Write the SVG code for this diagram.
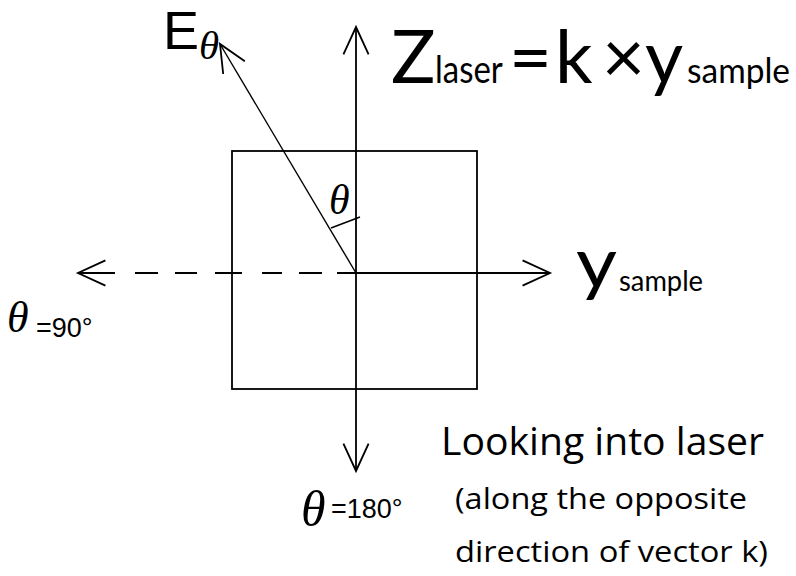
<svg xmlns="http://www.w3.org/2000/svg" width="796" height="576" viewBox="0 0 796 576">
<style>
.ln{fill:none;stroke:#000;stroke-width:1.8}
.thin{fill:none;stroke:#000;stroke-width:1.4}
.th{font-family:"Liberation Serif",serif;font-style:italic;fill:#000}
.f{font-family:Lato,"Liberation Sans",sans-serif;fill:#000}
.deg{font-family:"Liberation Sans",Arial,sans-serif;font-size:27px;fill:#000}
.cap{font-family:"Open Sans","Noto Sans",sans-serif;fill:#000}
</style>
<defs>
<marker id="ah" markerUnits="userSpaceOnUse" orient="auto" refX="0" refY="0" markerWidth="40" markerHeight="40" viewBox="-30 -15 35 30" overflow="visible">
<path d="M-24,-11 L0,0 L-24,11" fill="none" stroke="#000" stroke-width="1.6"/>
</marker>
</defs>
<rect width="796" height="576" fill="#fff"/>
<g id="sample-square">
<rect x="232" y="151" width="245" height="238" class="ln"/>
</g>
<g id="connectors">
<path id="axis-up" class="ln" d="M356,273 L356,27" marker-end="url(#ah)"/>
<path id="axis-down" class="ln" d="M356,273 L356,471" marker-end="url(#ah)"/>
<path id="axis-right" class="ln" d="M356,273 L550,273" marker-end="url(#ah)"/>
<path id="axis-left" class="ln" d="M356,273 H337 M322,273 H299 M282,273 H262 M242,273 H215 M197,273 H175 M158,273 H135 M115,273 H78" marker-end="url(#ah)"/>
<path id="e-vector" class="thin" d="M356,273 L220,44" marker-end="url(#ah)"/>
<path id="angle-mark" class="thin" d="M331,228 L360,217"/>
</g>
<g id="label-E">
<text x="163" y="49" font-family="'Liberation Sans',Arial,sans-serif" font-size="54" fill="#000">E</text>
<text class="th" x="199" y="59" font-size="41">θ</text>
</g>
<g id="label-theta">
<text class="th" x="329" y="214" font-size="42">θ</text>
</g>
<g id="label-theta-90">
<text class="th" x="7" y="332" font-size="44">θ</text>
<text class="deg" x="36" y="337">=90°</text>
</g>
<g id="label-theta-180">
<text class="th" x="301" y="526" font-size="50">θ</text>
<text class="deg" x="331" y="518">=180°</text>
</g>
<g id="label-formula">
<text class="f" x="391" y="83" font-size="74">Z</text>
<text class="f" transform="translate(435,83) scale(0.97,1.15)" x="0" y="0" font-size="34">laser</text>
<text class="f" x="509" y="83" font-size="74">=</text>
<text class="f" x="555" y="83" font-size="74">k</text>
<text class="f" x="602" y="83" font-size="74">×</text>
<text class="f" x="645" y="83" font-size="74">y</text>
<text class="f" x="687" y="83" font-size="34" textLength="103" lengthAdjust="spacingAndGlyphs">sample</text>
</g>
<g id="label-ysample">
<text class="f" x="576" y="288" font-size="72" textLength="41" lengthAdjust="spacingAndGlyphs">y</text>
<text class="f" x="619" y="291" font-size="29" textLength="84" lengthAdjust="spacingAndGlyphs">sample</text>
</g>
<g id="caption">
<text class="cap" x="441" y="455" font-size="38" textLength="323" lengthAdjust="spacingAndGlyphs">Looking into laser</text>
<text class="cap" x="455" y="509" font-size="30" textLength="292" lengthAdjust="spacingAndGlyphs">(along the opposite</text>
<text class="cap" x="455" y="562" font-size="30" textLength="313" lengthAdjust="spacingAndGlyphs">direction of vector k)</text>
</g>
</svg>
